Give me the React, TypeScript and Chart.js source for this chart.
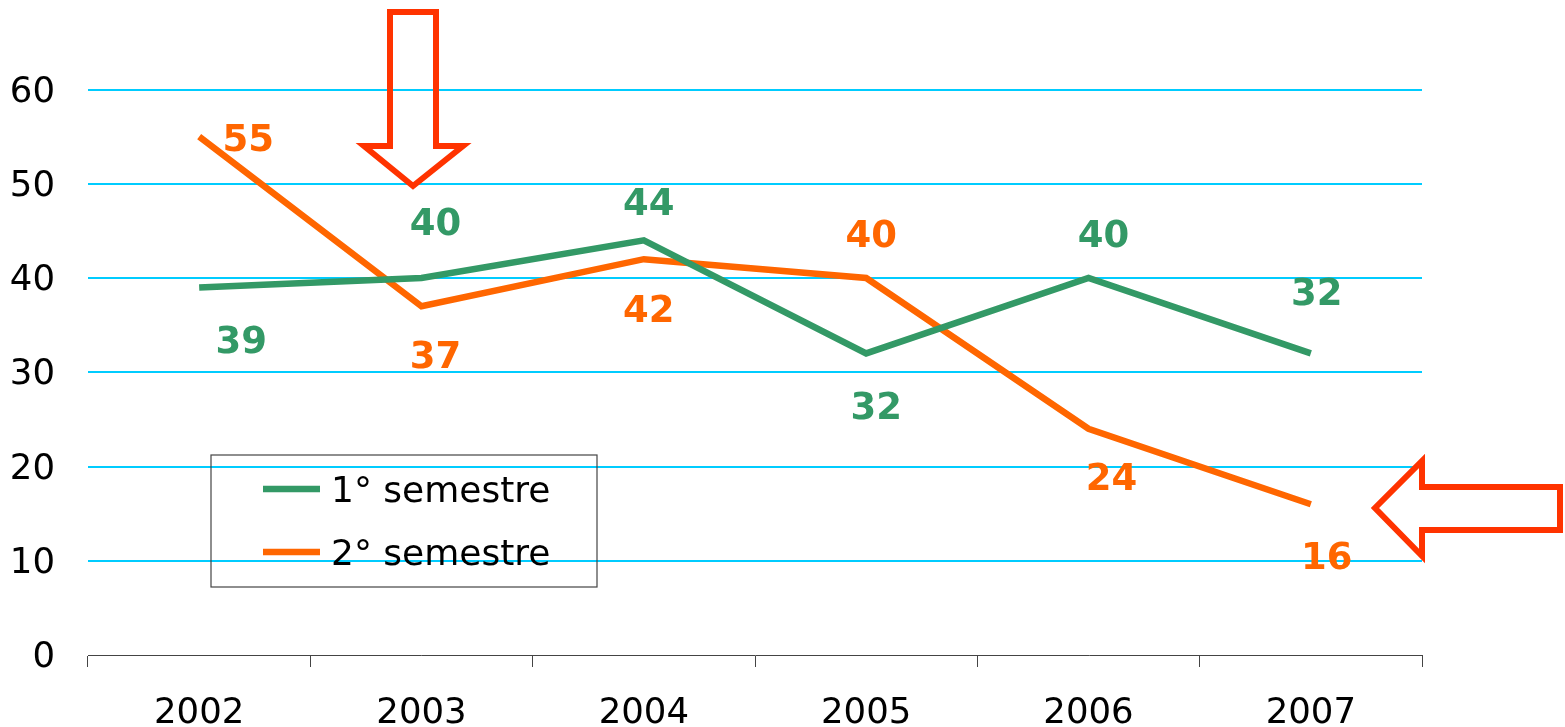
import React, { useEffect, useRef } from "react";
import { Chart, registerables } from "chart.js";

Chart.register(...registerables);

// ---- data ----
const years = ["2002", "2003", "2004", "2005", "2006", "2007"];
const firstSemester = [39, 40, 44, 32, 40, 32];
const secondSemester = [55, 37, 42, 40, 24, 16];
const yTickValues = [0, 10, 20, 30, 40, 50, 60];
const seriesNames = ["1° semestre", "2° semestre"];

// ---- styling ----
const GREEN = "#339966";
const ORANGE = "#FF6600";
const ARROW = "#FF3300";
const GRID = "#00CCFF";
const FONT = "'DejaVu Sans', Verdana, sans-serif";

// data label centre offsets from the point, in pixels [dx, dy]
const firstLabelOffsets = [[42, 52], [14, -57], [5, -39], [10, 52], [15, -45], [6, -62]];
const secondLabelOffsets = [[49, 1], [14, 48], [5, 49], [5, -45], [23, 48], [16, 51]];

const LABEL_SIZE = 37;
const LEGEND_SIZE = 36;
const CAP = 0.729;

const decorPlugin = {
  id: "decor",
  afterDatasetsDraw(chart: any) {
    const ctx = chart.ctx;
    ctx.save();
    ctx.font = `bold ${LABEL_SIZE}px ${FONT}`;
    ctx.textAlign = "center";
    ctx.textBaseline = "alphabetic";
    const half = (LABEL_SIZE * CAP) / 2;
    const sets = [
      { idx: 0, color: GREEN, offs: firstLabelOffsets, vals: firstSemester },
      { idx: 1, color: ORANGE, offs: secondLabelOffsets, vals: secondSemester },
    ];
    sets.forEach((s) => {
      const meta = chart.getDatasetMeta(s.idx);
      ctx.fillStyle = s.color;
      meta.data.forEach((pt: any, i: number) => {
        ctx.fillText(String(s.vals[i]), pt.x + s.offs[i][0], pt.y + s.offs[i][1] + half);
      });
    });
    ctx.restore();
  },
  afterDraw(chart: any) {
    const ctx = chart.ctx;
    ctx.save();
    // legend box
    ctx.strokeStyle = "#444444";
    ctx.lineWidth = 1.2;
    ctx.strokeRect(211, 455, 386, 132);
    const colors = [GREEN, ORANGE];
    const rows = [489, 552];
    ctx.font = `${LEGEND_SIZE}px ${FONT}`;
    ctx.textAlign = "left";
    ctx.textBaseline = "alphabetic";
    const half = (LEGEND_SIZE * CAP) / 2;
    seriesNames.forEach((name, i) => {
      ctx.strokeStyle = colors[i];
      ctx.lineWidth = 6.5;
      ctx.beginPath();
      ctx.moveTo(263, rows[i]);
      ctx.lineTo(320, rows[i]);
      ctx.stroke();
      ctx.fillStyle = "#000000";
      ctx.fillText(name, 331, rows[i] + half);
    });

    // arrows
    ctx.strokeStyle = ARROW;
    ctx.lineWidth = 6;
    ctx.lineJoin = "miter";
    // down arrow
    ctx.beginPath();
    ctx.moveTo(390, 12);
    ctx.lineTo(436, 12);
    ctx.lineTo(436, 146);
    ctx.lineTo(463, 146);
    ctx.lineTo(413, 186);
    ctx.lineTo(364, 146);
    ctx.lineTo(390, 146);
    ctx.closePath();
    ctx.stroke();
    // left arrow
    ctx.beginPath();
    ctx.moveTo(1560, 487);
    ctx.lineTo(1560, 530);
    ctx.lineTo(1422, 530);
    ctx.lineTo(1422, 556);
    ctx.lineTo(1375, 508);
    ctx.lineTo(1422, 461);
    ctx.lineTo(1422, 487);
    ctx.closePath();
    ctx.stroke();
    ctx.restore();
  },
};

export default function App() {
  const ref = useRef<HTMLCanvasElement>(null);

  useEffect(() => {
    if (!ref.current) return;
    const chart = new Chart(ref.current, {
      type: "line",
      data: {
        labels: years,
        datasets: [
          {
            label: seriesNames[0],
            data: firstSemester,
            borderColor: GREEN,
            backgroundColor: GREEN,
            borderWidth: 6.5,
            pointRadius: 0,
            tension: 0,
          },
          {
            label: seriesNames[1],
            data: secondSemester,
            borderColor: ORANGE,
            backgroundColor: ORANGE,
            borderWidth: 6.5,
            pointRadius: 0,
            tension: 0,
          },
        ],
      },
      options: {
        animation: false,
        responsive: false,
        maintainAspectRatio: false,
        layout: { padding: { left: 0, right: 143, top: 0, bottom: 0 } },
        plugins: {
          legend: { display: false },
          tooltip: { enabled: false },
        },
        scales: {
          x: {
            offset: true,
            grid: {
              offset: true,
              drawOnChartArea: false,
              drawTicks: true,
              tickLength: 12,
              color: "#444444",
              lineWidth: 1,
            },
            border: { display: true, color: "#444444", width: 1 },
            ticks: {
              color: "#000000",
              font: { family: FONT, size: 35.5 },
              padding: 25,
              maxRotation: 0,
            },
            afterFit(axis: any) {
              axis.height = 72;
              axis.paddingLeft = 0;
              axis.paddingRight = 0;
            },
          },
          y: {
            min: 0,
            max: 69.5,
            afterBuildTicks(axis: any) {
              axis.ticks = yTickValues.map((v) => ({ value: v }));
            },
            grid: {
              drawTicks: false,
              color: (c: any) => (c.tick && c.tick.value === 0 ? "rgba(0,0,0,0)" : GRID),
              lineWidth: 2,
            },
            border: { display: false },
            ticks: {
              color: "#000000",
              font: { family: FONT, size: 35.5 },
              padding: 33,
              labelOffset: 3,
            },
            afterFit(axis: any) {
              axis.width = 88;
              axis.paddingTop = 0;
              axis.paddingBottom = 0;
            },
          },
        },
      },
      plugins: [decorPlugin],
    });
    return () => chart.destroy();
  }, []);

  return (
    <div style={{ position: "absolute", left: 0, top: 0, width: 1565, height: 727, background: "#ffffff" }}>
      <canvas ref={ref} width={1565} height={727} style={{ display: "block" }} />
    </div>
  );
}
